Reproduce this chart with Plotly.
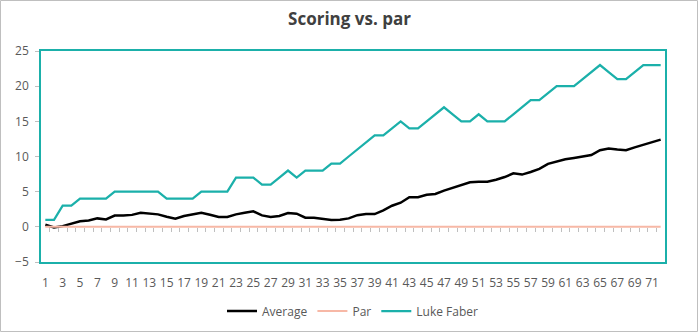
import plotly.graph_objects as go

# Round numbers 1..72
rounds = list(range(1, 73))

# Average score vs. par after each round
average = [0.3, -0.1, 0.1, 0.45, 0.8, 0.9, 1.2, 1.05, 1.6, 1.6, 1.7, 2.0,
           1.85, 1.77, 1.44, 1.15, 1.54, 1.82, 2.0, 1.72, 1.39, 1.39, 1.77, 2.0,
           2.2, 1.63, 1.39, 1.54, 1.96, 1.87, 1.3, 1.3, 1.11, 0.97, 1.01, 1.2,
           1.66, 1.82, 1.82, 2.35, 3.0, 3.43, 4.2, 4.2, 4.57, 4.67, 5.14, 5.57,
           5.9, 6.33, 6.42, 6.42, 6.7, 7.08, 7.6, 7.43, 7.8, 8.25, 8.95, 9.3,
           9.6, 9.8, 9.97, 10.2, 10.9, 11.15, 11.0, 10.9, 11.3, 11.7, 12.1, 12.4]

# Par baseline
par = [0] * 72

# Luke Faber's score vs. par
luke = [1, 1, 3, 3, 4, 4, 4, 4, 5, 5, 5, 5,
        5, 5, 4, 4, 4, 4, 5, 5, 5, 5, 7, 7,
        7, 6, 6, 7, 8, 7, 8, 8, 8, 9, 9, 10,
        11, 12, 13, 13, 14, 15, 14, 14, 15, 16, 17, 16,
        15, 15, 16, 15, 15, 15, 16, 17, 18, 18, 19, 20,
        20, 20, 21, 22, 23, 22, 21, 21, 22, 23, 23, 23]

x_tick_vals = list(range(1, 72, 2))
x_tick_text = [str(v) for v in x_tick_vals]
y_tick_vals = [-5, 0, 5, 10, 15, 20, 25]

TEAL = "#1BB0AA"
PAR = "#F7B8A6"
FONT = "Open Sans, Noto Sans, sans-serif"

W, H = 699, 333
ML, MR, MT, MB = 41, 34, 51, 71
PW, PH = W - ML - MR, H - MT - MB

fig = go.Figure()
fig.add_trace(go.Scatter(x=rounds, y=average, name="Average", mode="lines",
                         line=dict(color="#000000", width=2.5)))
fig.add_trace(go.Scatter(x=rounds, y=par, name="Par", mode="lines",
                         xaxis="x2", line=dict(color=PAR, width=2)))
fig.add_trace(go.Scatter(x=rounds, y=luke, name="Luke Faber", mode="lines",
                         line=dict(color=TEAL, width=2.25)))

y_min, y_max = -5, 25
zero_pos = (0 - y_min) / (y_max - y_min)

fig.update_layout(
    width=W, height=H,
    margin=dict(l=ML, r=MR, t=MT, b=MB, autoexpand=False),
    paper_bgcolor="white", plot_bgcolor="white",
    font=dict(family=FONT, size=12, color="#595959"),
    title=dict(text="<b>Scoring vs. par</b>", x=0.5, xanchor="center",
               y=1 - 19 / H, yanchor="middle",
               font=dict(family=FONT, size=17, color="#404040")),
    xaxis=dict(range=[0.5, 72.5], tickmode="array", tickvals=x_tick_vals,
               ticktext=x_tick_text, ticks="", showgrid=False, zeroline=False,
               showline=True, linecolor=TEAL, linewidth=1.5, mirror=True,
               tickfont=dict(size=12, color="#595959"), ticklabelstandoff=9),
    xaxis2=dict(range=[0.5, 72.5], overlaying="x", anchor="free",
                position=zero_pos, tickmode="array",
                tickvals=[v + 0.5 for v in rounds[:-1]],
                ticks="outside", ticklen=4, tickcolor="#BFBFBF", tickwidth=1,
                showticklabels=False, showgrid=False, zeroline=False,
                showline=False),
    yaxis=dict(range=[y_min, y_max], tickmode="array", tickvals=y_tick_vals,
               ticks="outside", ticklen=4, tickcolor="#BFBFBF",
               showgrid=False, zeroline=False, showline=True, linecolor=TEAL,
               linewidth=1.5, mirror=True,
               tickfont=dict(size=12, color="#595959"), ticklabelstandoff=4),
    legend=dict(orientation="h", x=0.5, xanchor="center",
                y=-(311 - (MT + PH)) / PH, yanchor="middle",
                font=dict(size=12, color="#595959"), itemwidth=30),
    showlegend=True,
    shapes=[dict(type="rect", xref="paper", yref="paper",
                 x0=(0.5 - ML) / PW, x1=(W - 1.5 - ML) / PW,
                 y0=(MT + PH - (H - 1.5)) / PH, y1=(MT + PH - 0.5) / PH,
                 line=dict(color="#BFBFBF", width=1), layer="below")],
)

fig.write_html("out.html")
